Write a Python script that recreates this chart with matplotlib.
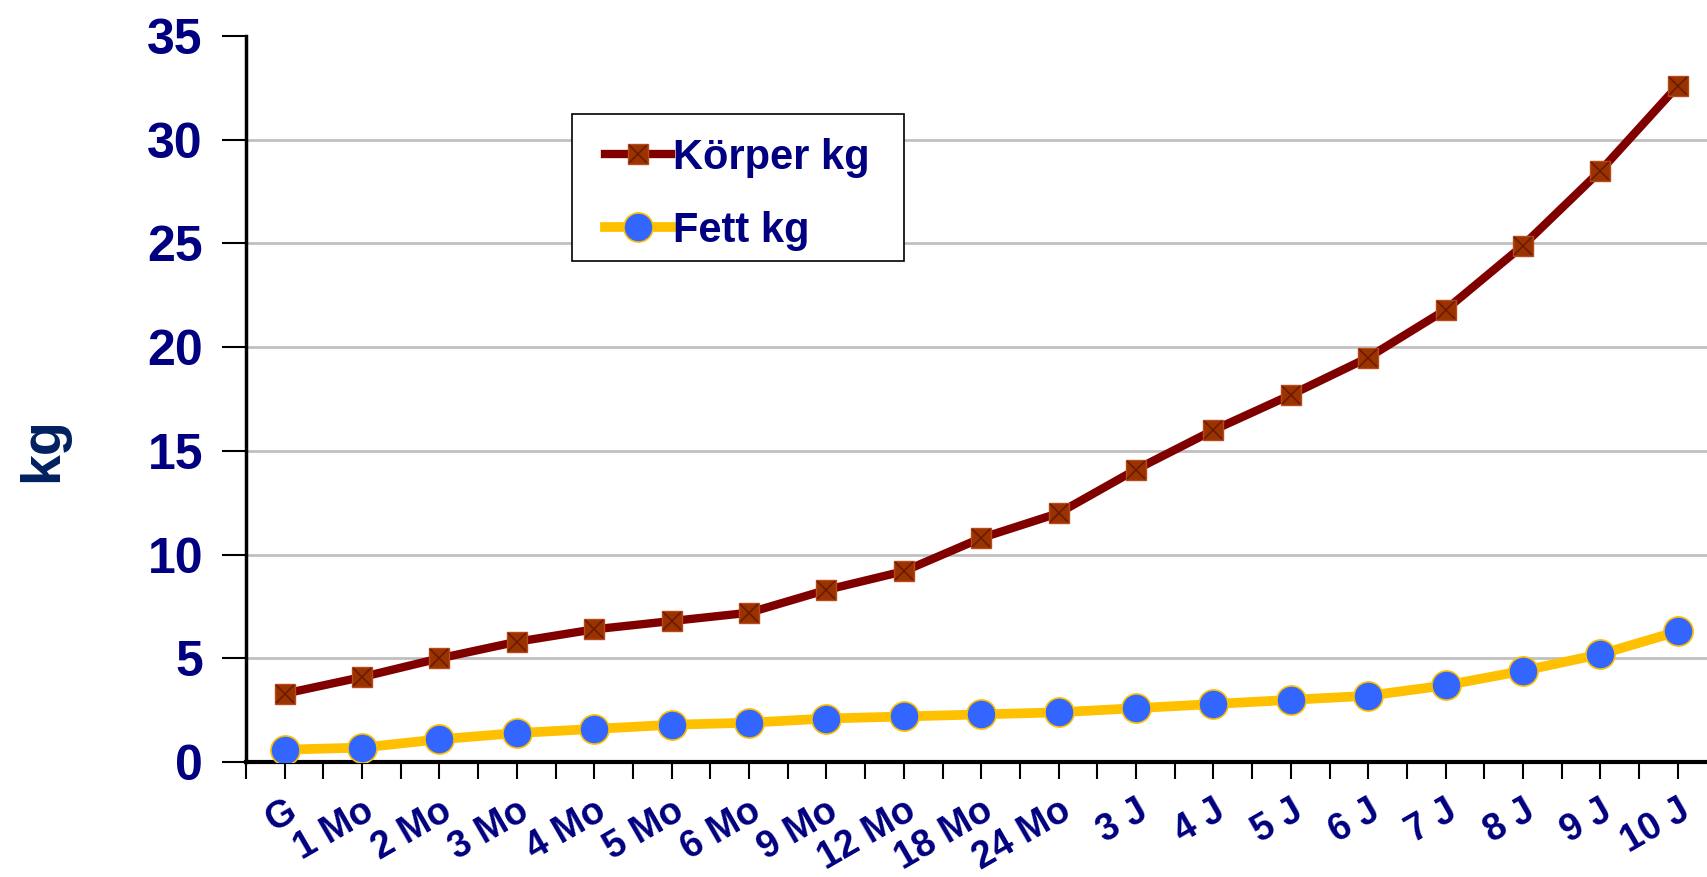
import numpy as np
import matplotlib
matplotlib.use("Agg")
from matplotlib import pyplot as plt
from matplotlib.legend_handler import HandlerTuple
from matplotlib.patches import Rectangle

# categories and values
ages = ['G', '1 Mo', '2 Mo', '3 Mo', '4 Mo', '5 Mo', '6 Mo', '9 Mo', '12 Mo',
        '18 Mo', '24 Mo', '3 J', '4 J', '5 J', '6 J', '7 J', '8 J', '9 J', '10 J']
koerper_kg = [3.3, 4.1, 5.0, 5.8, 6.4, 6.8, 7.2, 8.3, 9.2,
              10.8, 12.0, 14.1, 16.0, 17.7, 19.5, 21.8, 24.9, 28.5, 32.6]
fett_kg = [0.6, 0.7, 1.1, 1.4, 1.6, 1.8, 1.9, 2.1, 2.2,
           2.3, 2.4, 2.6, 2.8, 3.0, 3.2, 3.7, 4.4, 5.2, 6.3]
y_ticks = [0, 5, 10, 15, 20, 25, 30, 35]

navy = '#000080'
plt.rcParams['font.family'] = ['Liberation Sans', 'DejaVu Sans']
plt.rcParams['font.weight'] = 'bold'

fig = plt.figure(figsize=(17.08, 8.77), dpi=100)
ax = fig.add_axes([0.144, 0.131, 0.856, 0.828])

x = np.arange(len(ages))

# Fett line: gold line, blue round markers
l2, = ax.plot(x, fett_kg, color='#FFC000', lw=7, marker='o', ms=21,
              markerfacecolor='#3366FF', markeredgecolor='#FFC000', mew=1.2,
              zorder=3)
# Körper line: maroon line, brown square markers with a cross
l1, = ax.plot(x, koerper_kg, color='#800000', lw=6, marker='s', ms=14,
              markerfacecolor='#993300', markeredgecolor='#B84A1A', mew=1,
              zorder=4)
l1x, = ax.plot(x, koerper_kg, ls='none', marker='x', ms=13,
               markeredgecolor='#6E1A00', mew=1.2, zorder=5)

ax.set_xlim(-0.5, 18.39)
ax.set_ylim(0, 35)
ax.set_yticks(y_ticks)
ax.set_yticklabels([str(v) for v in y_ticks], fontsize=36, fontweight='bold', color=navy)
ax.tick_params(axis='y', direction='out', length=17, width=1.5, pad=14, color='black')

ax.set_xticks(x)
ax.set_xticklabels(ages, fontsize=27, fontweight='bold', color=navy,
                   rotation=30, ha='right', va='top', rotation_mode='anchor')
ax.set_xticks(np.arange(-0.5, 18.5, 1), minor=True)
ax.tick_params(axis='x', which='both', direction='out', length=12, width=1.5,
               pad=10, color='black')

ax.grid(axis='y', color='#C0C0C0', lw=2)
ax.yaxis.get_gridlines()[-1].set_visible(False)
ax.yaxis.get_gridlines()[0].set_visible(False)
ax.set_axisbelow(True)

for s in ['top', 'right']:
    ax.spines[s].set_visible(False)
ax.spines['left'].set_linewidth(2.5)
ax.spines['bottom'].set_linewidth(3)

ax.set_ylabel('kg', fontsize=40, fontweight='bold', color='#002060')
ax.yaxis.set_label_coords(-0.121, 0.43)

# legend box drawn separately so the padding matches
ax.add_patch(Rectangle((0.3349, 0.7024), 0.1944, 0.1676, transform=fig.transFigure,
                       facecolor='white', edgecolor='black', lw=1.2, zorder=6,
                       clip_on=False))
leg = ax.legend([(l1, l1x), l2], ['Körper kg', 'Fett kg'],
                handler_map={tuple: HandlerTuple(ndivide=1)},
                loc='upper left', bbox_to_anchor=(0.354, 0.843),
                bbox_transform=fig.transFigure, frameon=False,
                prop={'size': 30, 'weight': 'bold'}, handlelength=1.6,
                handletextpad=0.05, labelspacing=0.8, borderpad=0,
                borderaxespad=0)
leg.set_zorder(7)
for t in leg.get_texts():
    t.set_color(navy)

fig.savefig('out.png', dpi=100)
